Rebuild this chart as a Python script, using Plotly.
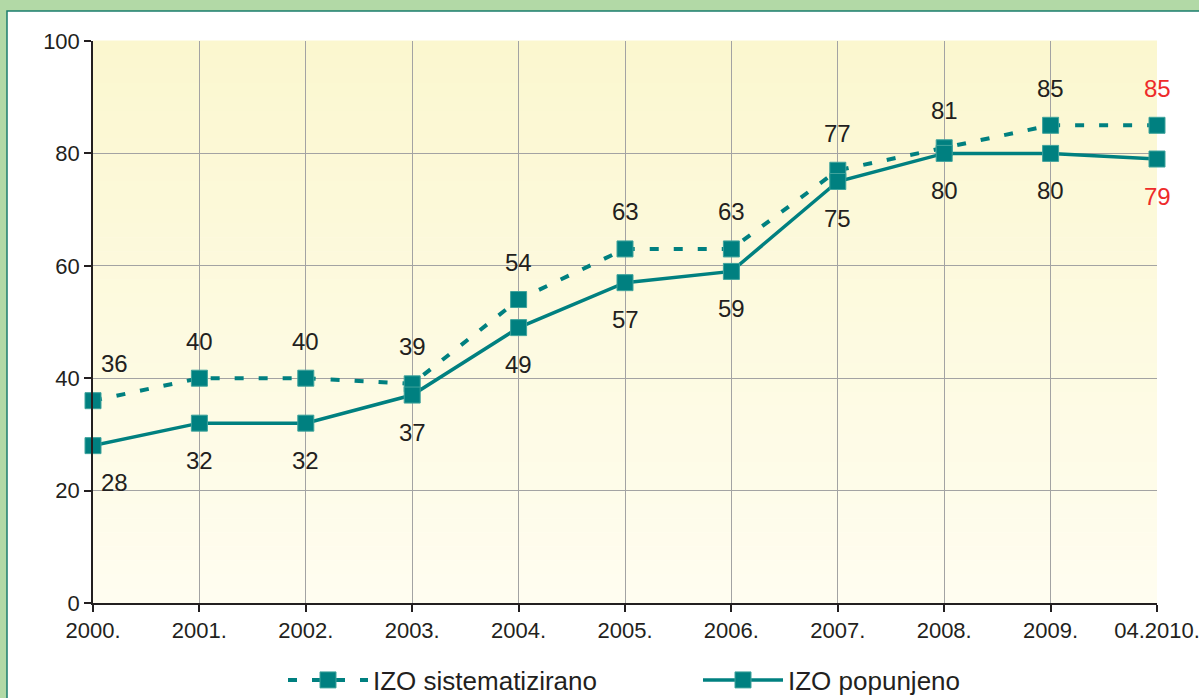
import plotly.graph_objects as go

categories = ["2000.", "2001.", "2002.", "2003.", "2004.", "2005.", "2006.", "2007.", "2008.", "2009.", "04.2010."]
sistematizirano = [36, 40, 40, 39, 54, 63, 63, 77, 81, 85, 85]
popunjeno = [28, 32, 32, 37, 49, 57, 59, 75, 80, 80, 79]
y_ticks = [0, 20, 40, 60, 80, 100]

TEAL = "#008080"
TXT = "#231f20"
RED = "#ee2b2b"
FONT = "Liberation Sans, Arial, sans-serif"

W, H = 1199, 698
L, R, T, B = 93, 42, 41, 95
pw, ph = W - L - R, H - T - B

def px2paper_x(px):
    return (px - L) / pw

def py2paper_y(py):
    return (H - B - py) / ph

fig = go.Figure()

fig.add_trace(go.Scatter(
    x=categories, y=sistematizirano, name="IZO sistematizirano",
    mode="lines+markers",
    line=dict(color=TEAL, width=4, dash="9px,15px"),
    marker=dict(symbol="square", size=16, color=TEAL, line=dict(color="#3fa39c", width=1)),
    cliponaxis=False,
))
fig.add_trace(go.Scatter(
    x=categories, y=popunjeno, name="IZO popunjeno",
    mode="lines+markers",
    line=dict(color=TEAL, width=3.5),
    marker=dict(symbol="square", size=16, color=TEAL, line=dict(color="#3fa39c", width=1)),
    cliponaxis=False,
))

n = len(categories)
annotations = []
for i, v in enumerate(sistematizirano):
    annotations.append(dict(
        x=i, y=v, xref="x", yref="y", text=str(v), showarrow=False,
        yshift=37, xshift=21 if i == 0 else 0,
        font=dict(size=24, color=RED if i == n - 1 else TXT, family=FONT),
    ))
for i, v in enumerate(popunjeno):
    annotations.append(dict(
        x=i, y=v, xref="x", yref="y", text=str(v), showarrow=False,
        yshift=-37, xshift=21 if i == 0 else 0,
        font=dict(size=24, color=RED if i == n - 1 else TXT, family=FONT),
    ))

shapes = []
# white panel with teal border
shapes.append(dict(
    type="rect", xref="paper", yref="paper",
    x0=px2paper_x(7), x1=px2paper_x(1215), y0=py2paper_y(715), y1=py2paper_y(11),
    fillcolor="white", line=dict(color="#1b7d6e", width=1.5), layer="below",
))
# gradient background of plot area
top = (251, 247, 207)
bot = (255, 253, 240)
N = 40
for k in range(N):
    t = (k + 0.5) / N
    col = tuple(round(top[j] + (bot[j] - top[j]) * t) for j in range(3))
    shapes.append(dict(
        type="rect", xref="paper", yref="paper",
        x0=0, x1=1, y0=1 - (k + 1) / N, y1=1 - k / N + 0.001,
        fillcolor="rgb(%d,%d,%d)" % col, line=dict(width=0), layer="below",
    ))

fig.update_layout(
    width=W, height=H,
    margin=dict(l=L, r=R, t=T, b=B, autoexpand=False),
    paper_bgcolor="#b2d9a6",
    plot_bgcolor="rgba(0,0,0,0)",
    font=dict(family=FONT, color=TXT),
    shapes=shapes,
    annotations=annotations,
    showlegend=True,
    legend=dict(
        orientation="h", x=px2paper_x(283), xanchor="left", y=py2paper_y(680), yanchor="middle",
        font=dict(size=26, color=TXT, family=FONT), bgcolor="rgba(0,0,0,0)",
        itemwidth=80, tracegroupgap=0, entrywidth=320,
    ),
    xaxis=dict(
        type="category", categoryorder="array", categoryarray=categories,
        range=[0, n - 1], showgrid=True, gridcolor="#a3a3a3", gridwidth=1,
        showline=True, linecolor=TXT, linewidth=1.5,
        ticks="outside", ticklen=7, tickcolor=TXT, tickwidth=1.5,
        tickfont=dict(size=22, color=TXT, family=FONT),
        zeroline=False, fixedrange=True, automargin=False,
    ),
    yaxis=dict(
        range=[0, 100], tickvals=y_ticks, ticktext=[str(v) for v in y_ticks],
        showgrid=True, gridcolor="#a3a3a3", gridwidth=1,
        showline=True, linecolor=TXT, linewidth=1.5,
        ticks="outside", ticklen=7, tickcolor=TXT, tickwidth=1.5,
        tickfont=dict(size=22, color=TXT, family=FONT),
        zeroline=False, fixedrange=True, automargin=False,
    ),
)

fig.write_html(
    "out.html",
    config={"displayModeBar": False},
    post_script="document.body.style.margin='0';document.body.style.overflow='hidden';",
)
